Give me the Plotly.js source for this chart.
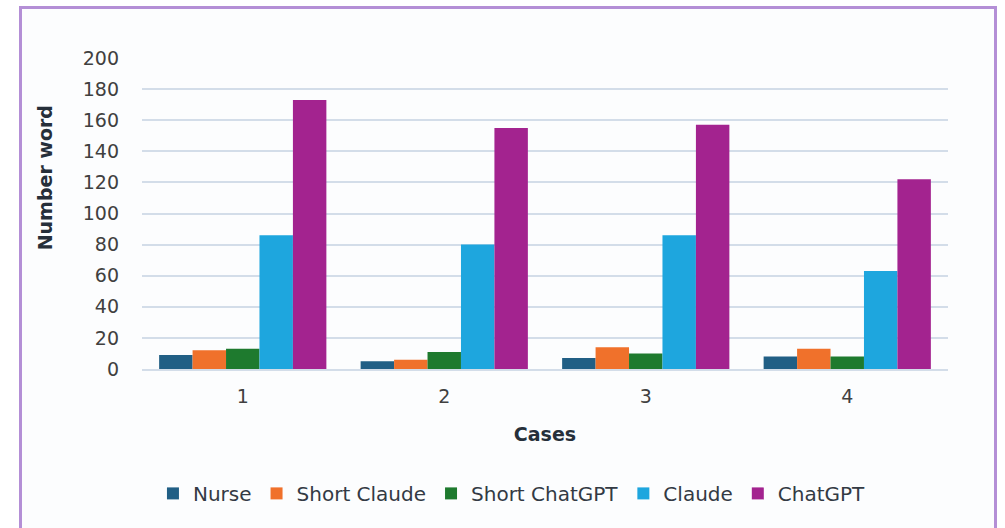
<!DOCTYPE html>
<html>
<head>
<meta charset="utf-8">
<script src="https://cdn.plot.ly/plotly-3.0.1.min.js"></script>
<style>
html,body{margin:0;padding:0;background:#ffffff;}
#frame{position:absolute;left:19px;top:6px;width:972px;height:540px;border:3px solid #b48fd6;border-bottom:none;background:#fcfdfe;}
#chart{position:absolute;left:0;top:0;width:1005px;height:528px;}
</style>
</head>
<body>
<div id="frame"></div>
<div id="chart"></div>
<script>
const categories = ["1", "2", "3", "4"];
const seriesNames = ["Nurse", "Short Claude", "Short ChatGPT", "Claude", "ChatGPT"];
const nurse = [9, 5, 7, 8];
const shortClaude = [12, 6, 14, 13];
const shortChatGPT = [13, 11, 10, 8];
const claude = [86, 80, 86, 63];
const chatGPT = [173, 155, 157, 122];
const yTicks = [0, 20, 40, 60, 80, 100, 120, 140, 160, 180, 200];
const yTitle = "Number word";
const xTitle = "Cases";

const seriesValues = [nurse, shortClaude, shortChatGPT, claude, chatGPT];
const colors = ["#215f85", "#f0712b", "#1e7a2e", "#1ea6de", "#a3238f"];

const traces = seriesNames.map((name, i) => ({
  type: "bar",
  name: name,
  x: categories,
  y: seriesValues[i],
  marker: {color: colors[i], line: {width: 0}},
  hoverinfo: "x+y+name"
}));

const layout = {
  width: 1005,
  height: 528,
  paper_bgcolor: "rgba(0,0,0,0)",
  plot_bgcolor: "rgba(0,0,0,0)",
  margin: {l: 142, r: 57, t: 58, b: 159},
  barmode: "group",
  bargap: 0.17,
  bargroupgap: 0,
  font: {family: "DejaVu Sans, Liberation Sans, sans-serif", color: "#404040"},
  xaxis: {
    type: "category",
    tickfont: {size: 19, color: "#404040"},
    showgrid: false,
    showline: true,
    linecolor: "#d3dde9",
    linewidth: 2,
    ticks: "",
    ticklabelstandoff: 9,
    title: {text: "<b>" + xTitle + "</b>", font: {size: 19, color: "#262f3a"}, standoff: 22}
  },
  yaxis: {
    range: [0, 200],
    tickvals: yTicks,
    ticktext: yTicks.map(String),
    tickfont: {size: 19, color: "#404040"},
    gridcolor: "#d3dde9",
    gridwidth: 2,
    zeroline: false,
    showline: false,
    ticks: "",
    ticklabelstandoff: 22
  },
  annotations: [{
    text: "<b>" + yTitle + "</b>",
    xref: "paper", yref: "paper",
    x: -0.120, y: 0.614,
    xanchor: "center", yanchor: "middle",
    textangle: -90,
    showarrow: false,
    font: {size: 19, color: "#262f3a"}
  }],
  legend: {
    orientation: "h",
    x: 0.459,
    xanchor: "center",
    y: -0.40,
    yanchor: "middle",
    font: {size: 20, color: "#333a44"},
    itemwidth: 30,
    traceorder: "normal"
  },
  showlegend: true
};

Plotly.newPlot("chart", traces, layout, {displayModeBar: false, staticPlot: true});
</script>
</body>
</html>
